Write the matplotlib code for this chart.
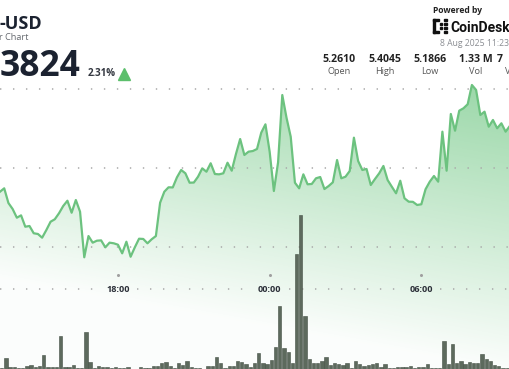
import numpy as np
import matplotlib
matplotlib.use("Agg")
import matplotlib.pyplot as plt
from matplotlib.patches import Rectangle
from matplotlib.colors import to_rgb

W, H = 510, 369

# 10-minute closes, first visible bar 13:20 (7 Aug) ... 09:30 (8 Aug)
price = [5.2696, 5.2739, 5.2553, 5.2477, 5.2367, 5.2397, 5.2253, 5.2262, 5.2170, 5.2161,
         5.2114, 5.2211, 5.2316, 5.2347, 5.2423, 5.2515, 5.2582, 5.2430, 5.2591, 5.2443,
         5.1866, 5.2135, 5.2051, 5.2076, 5.2080, 5.1992, 5.2051, 5.2043, 5.2025, 5.1916,
         5.2063, 5.1873, 5.1992, 5.2101, 5.2098, 5.2043, 5.2094, 5.2135, 5.2557, 5.2696,
         5.2752, 5.2750, 5.2878, 5.2971, 5.2929, 5.2810, 5.2812, 5.2886, 5.2992, 5.2949,
         5.3056, 5.2920, 5.2916, 5.2929, 5.3063, 5.2962, 5.3173, 5.3363, 5.3161, 5.3203,
         5.3211, 5.3237, 5.3443, 5.3549, 5.3203, 5.2705, 5.3068, 5.3920, 5.3633, 5.3392,
         5.2810, 5.2739, 5.2916, 5.2790, 5.2794, 5.2866, 5.2882, 5.2730, 5.2768, 5.2815,
         5.3097, 5.2866, 5.2886, 5.2958, 5.3380, 5.3085, 5.2971, 5.2984, 5.2781, 5.2857,
         5.2929, 5.3022, 5.2844, 5.2759, 5.2676, 5.2835, 5.2613, 5.2570, 5.2568, 5.2528,
         5.2537, 5.2727, 5.2823, 5.2895, 5.2823, 5.3456, 5.2962, 5.3680, 5.3468, 5.3722,
         5.3752, 5.3803, 5.4047, 5.3984, 5.3667, 5.3709, 5.3519, 5.3604, 5.3499, 5.3562,
         5.3456, 5.3528]

# volume per bar (relative units)
volume = [1.0, 10.7, 1.7, 2.3, 0.7, 0.7, 2.7, 4.0, 2.3, 3.0,
          13.7, 2.3, 2.3, 2.3, 33.3, 1.7, 2.3, 3.7, 0.7, 0.7,
          36.7, 7.3, 1.0, 3.0, 2.0, 1.7, 1.0, 1.7, 0.7, 0.7,
          1.7, 0.3, 0.3, 2.3, 1.3, 1.0, 3.3, 3.3, 6.3, 6.7,
          3.3, 1.0, 6.3, 3.7, 7.7, 1.7, 1.0, 1.0, 0.3, 3.3,
          3.3, 11.7, 5.7, 1.0, 2.7, 3.0, 7.7, 7.0, 4.7, 2.3,
          5.7, 15.7, 5.7, 4.7, 9.0, 21.7, 63.3, 20.7, 17.3, 5.7,
          115.0, 154.3, 53.3, 10.0, 6.3, 5.7, 7.7, 12.0, 3.7, 5.7,
          4.7, 3.7, 6.0, 1.3, 8.0, 4.7, 3.0, 3.7, 5.0, 6.0,
          2.3, 5.0, 0.7, 0.7, 2.3, 2.3, 2.3, 3.0, 0.7, 1.7,
          1.7, 5.0, 0.7, 0.7, 0.7, 28.0, 4.7, 25.0, 5.7, 7.7,
          4.7, 7.0, 6.0, 6.0, 14.7, 10.0, 8.3, 3.7, 2.7, 1.3,
          1.3, 0.7]

hours = 13 + 20 / 60 + np.arange(len(price)) / 6.0   # hours since 7 Aug 00:00
tick_hours = [18, 24, 30]
tick_labels = ["18:00", "00:00", "06:00"]
grid_prices = [5.40, 5.30, 5.20]

stats_vals = ["5.2610", "5.4045", "5.1866", "1.33 M", "7"]
stats_names = ["Open", "High", "Low", "Vol", "V"]

green = "#6cc27f"
dark = "#1b2230"

pxh = 25.28                      # pixels per hour
x0 = 13 + 20 / 60
xlim = (x0, x0 + W / pxh)
ylim = (5.30 - 201.3 / 790, 5.30 + 167.7 / 790)

fig = plt.figure(figsize=(W / 100, H / 100), dpi=100)
ax = fig.add_axes([0, 0, 1, 1])
ax.set_xlim(*xlim)
ax.set_ylim(*ylim)
ax.axis("off")

# gradient area under price line
yy, xx = np.mgrid[0:H, 0:W]
alpha = np.clip(0.80 - 0.0021 * yy - 0.00038 * (W - xx), 0.02, 1)
rgba = np.zeros((H, W, 4))
rgba[..., :3] = to_rgb("#5cbf72")
rgba[..., 3] = alpha
poly = ax.fill_between(hours, price, ylim[0], facecolor="none", edgecolor="none")
im = ax.imshow(rgba, extent=(xlim[0], xlim[1], ylim[0], ylim[1]), aspect="auto",
               origin="upper", zorder=1, interpolation="bilinear")
im.set_clip_path(poly.get_paths()[0], transform=ax.transData)

# dotted grid
for gp in grid_prices:
    ax.axhline(gp, color="#a8a8a8", lw=1.1, ls=(0, (0.9, 7.6)), zorder=2)

# time axis row with gaps for labels
ax2 = ax.twinx()
ax2.set_position([0, 0, 1, 1])
ax2.set_xlim(*xlim)
ax2.set_ylim(H, 0)
ax2.axis("off")
row_y = 288.5
edges = [xlim[0]]
for th in tick_hours:
    edges += [th - 0.75, th + 0.75]
edges.append(xlim[1])
for a, b in zip(edges[::2], edges[1::2]):
    ax2.plot([a, b], [row_y, row_y], color="#a8a8a8", lw=1.1, ls=(0, (0.9, 7.6)), zorder=2)
for th, lab in zip(tick_hours, tick_labels):
    ax2.plot([th], [275], marker="o", ms=1.2, color="#a0a0a0", zorder=2)
    ax2.text(th, 292.5, lab, ha="center", va="baseline", fontsize=6.6,
             fontweight="bold", family="Open Sans", color="#2b2f38", zorder=5)

# volume bars (relative units -> bottom band)
ax3 = ax.twinx()
ax3.set_position([0, 0, 1, 1])
ax3.set_xlim(*xlim)
ax3.set_ylim(0, H)
ax3.axis("off")
ax3.bar(hours, volume, width=3.3 / pxh, align="edge", color="#5d6a5d",
        edgecolor="#445044", linewidth=0.4, zorder=3)

# price line on top
ax4 = ax.twinx()
ax4.set_position([0, 0, 1, 1])
ax4.set_xlim(*xlim)
ax4.set_ylim(*ylim)
ax4.axis("off")
ax4.plot(hours, price, color=green, lw=1.6, solid_joinstyle="round", zorder=4)


def fx(x):
    return x / W


def fy(y):
    return 1 - y / H


# header
fig.text(fx(-1), fy(29), "-USD", fontsize=13, fontweight="bold", family="Open Sans",
         color=dark, va="baseline")
fig.text(fx(-1), fy(40.5), "r Chart", fontsize=6.6, family="Open Sans", color="#666a70",
         va="baseline")
fig.text(fx(0), fy(75.5), "3824", fontsize=25.5, fontweight="bold", family="Open Sans",
         color=dark, va="baseline")
fig.text(fx(88), fy(76.5), "2.31%", fontsize=7, fontweight="bold", family="Open Sans",
         color="#333740", va="baseline")
fig.lines.append(plt.Line2D([fx(124.5)], [fy(73.5)], marker="^", ms=8, color="#5cbf6c",
                            transform=fig.transFigure, figure=fig))

fig.text(fx(433), fy(13), "Powered by", fontsize=6.1, fontweight="bold", family="Open Sans",
         color="#222", va="baseline")
# CoinDesk mark
sq = [(433, 19, 2.4, 14), (433, 19, 6, 2.4), (433, 30.6, 6, 2.4),
      (444.5, 19, 2.4, 2.4), (444.5, 23, 2.4, 2.4), (444.5, 27, 2.4, 2.4),
      (444.5, 30.6, 2.4, 2.4), (440, 23, 2, 2), (440, 27, 2, 2)]
for x, y, w, h in sq:
    fig.patches.append(Rectangle((fx(x), fy(y + h)), w / W, h / H, color="#111",
                                 transform=fig.transFigure, figure=fig))
fig.text(fx(450), fy(32), "CoinDesk", fontsize=10, fontweight="bold", family="Roboto",
         color="#111", va="baseline")
fig.text(fx(440.5), fy(46.5), "8 Aug 2025 11:23", fontsize=6.2, family="Open Sans",
         color="#8a8d92", va="baseline")

for k, (v, n) in enumerate(zip(stats_vals, stats_names)):
    cx = 339 + 45.5 * k
    ha = "center"
    if k == 4:
        cx, ha = 497, "left"
    fig.text(fx(cx), fy(62), v, fontsize=7.6, fontweight="bold", family="Open Sans",
             color="#222", ha=ha, va="baseline")
    fig.text(fx(cx + (8 if k == 4 else 0)), fy(74), n, fontsize=6.6, family="Open Sans",
             color="#555", ha=ha, va="baseline")

fig.savefig("out.png", dpi=100)
